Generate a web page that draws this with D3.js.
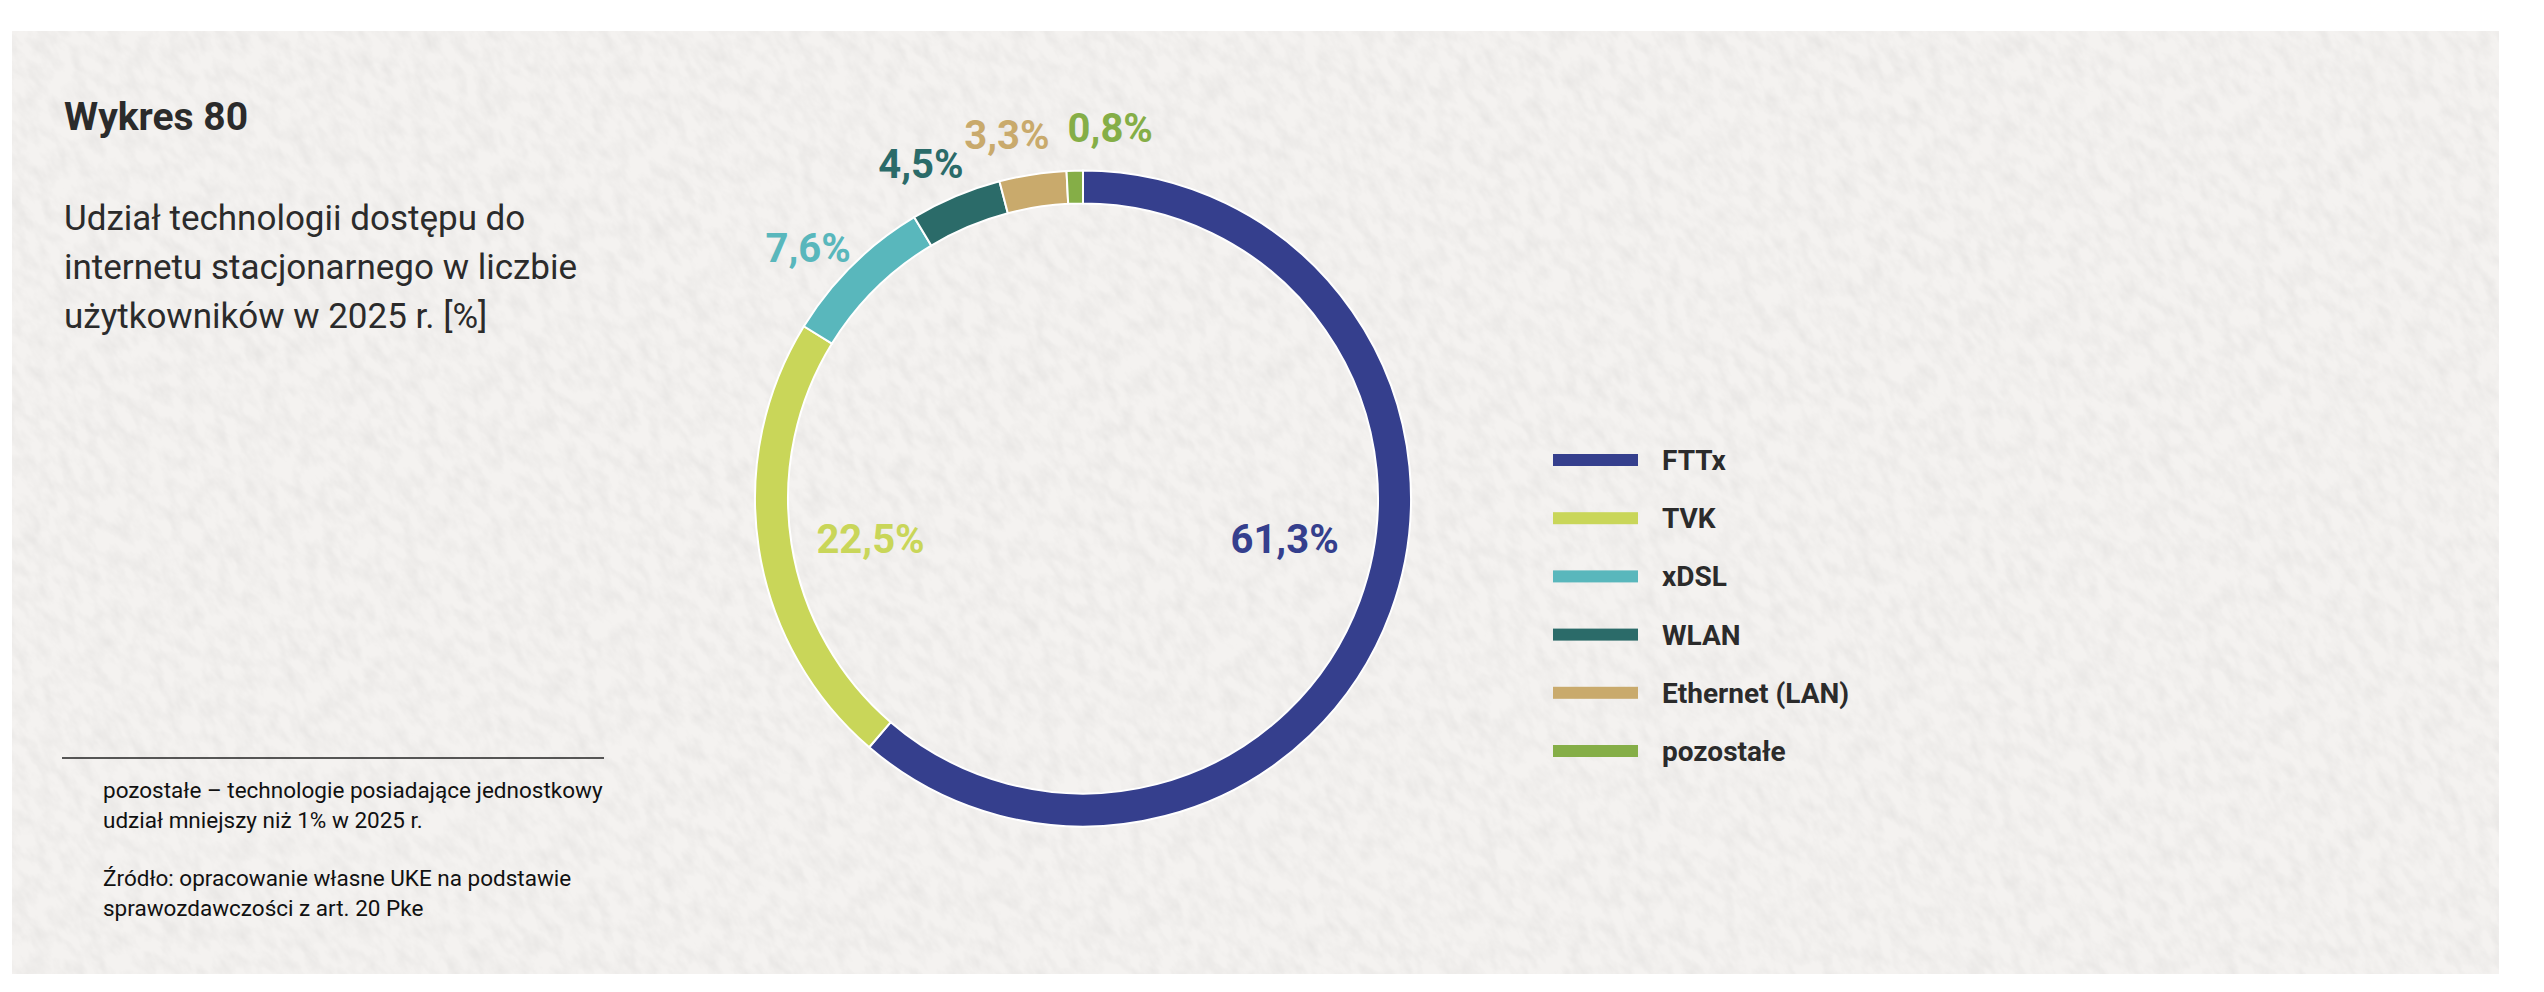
<!DOCTYPE html>
<html lang="pl">
<head>
<meta charset="utf-8">
<title>Wykres 80</title>
<script src="https://cdn.jsdelivr.net/npm/d3@7"></script>
<style>
  html, body { margin: 0; padding: 0; background: #fff; }
  svg { display: block; font-family: Roboto, "Noto Sans", sans-serif; }
</style>
</head>
<body>
<div id="chart"></div>
<script>
const width = 2544,
  height = 992;

// data
const categories = ["FTTx", "TVK", "xDSL", "WLAN", "Ethernet (LAN)", "pozostałe"];
const shares = [61.3, 22.5, 7.6, 4.5, 3.3, 0.8];
const colors = ["#353f8d", "#c9d659", "#59b7bc", "#2b6b69", "#c9aa6c", "#85ae47"];

const titleText = "Wykres 80";
const subtitleLines = [
  "Udział technologii dostępu do",
  "internetu stacjonarnego w liczbie",
  "użytkowników w 2025 r. [%]"
];
const noteLines = [
  "pozostałe – technologie posiadające jednostkowy",
  "udział mniejszy niż 1% w 2025 r."
];
const sourceLines = [
  "Źródło: opracowanie własne UKE na podstawie",
  "sprawozdawczości z art. 20 Pke"
];

// layout
const panel = { x: 12, y: 31, w: 2487, h: 943 };
const center = { x: 1083, y: 498.5 };
const outerR = 328,
  innerR = 295;

const pl = d3.formatLocale({ decimal: ",", thousands: " ", grouping: [3], currency: ["", " zł"] });
const fmt = d => pl.format(".1f")(d) + "%";

const data = categories.map((c, i) => ({ name: c, value: shares[i] }));
const color = d3.scaleOrdinal(categories, colors);

const svg = d3
  .select("#chart")
  .append("svg")
  .attr("width", width)
  .attr("height", height);

// paper background
const defs = svg.append("defs");
defs.append("clipPath").attr("id", "panelClip")
  .append("rect")
  .attr("x", panel.x).attr("y", panel.y)
  .attr("width", panel.w).attr("height", panel.h);

const f = defs.append("filter").attr("id", "paper")
  .attr("x", 0).attr("y", 0).attr("width", "100%").attr("height", "100%");
f.append("feTurbulence")
  .attr("type", "fractalNoise")
  .attr("baseFrequency", "0.09 0.045")
  .attr("numOctaves", 4)
  .attr("seed", 7);
f.append("feColorMatrix")
  .attr("type", "matrix")
  .attr("values", "0 0 0 0 0.62  0 0 0 0 0.61  0 0 0 0 0.6  0.55 0 0 0 -0.2");

svg.append("rect")
  .attr("x", panel.x).attr("y", panel.y)
  .attr("width", panel.w).attr("height", panel.h)
  .attr("fill", "#f4f2f0");

svg.append("g")
  .attr("clip-path", "url(#panelClip)")
  .append("g")
  .attr("transform", `translate(${width / 2},${height / 2}) rotate(-35)`)
  .append("rect")
  .attr("x", -1600).attr("y", -1600)
  .attr("width", 3200).attr("height", 3200)
  .attr("filter", "url(#paper)");

// title block
svg.append("text")
  .attr("x", 64).attr("y", 130)
  .attr("font-size", 39)
  .attr("font-weight", 700)
  .attr("fill", "#2b2b2b")
  .text(titleText);

svg.append("g")
  .selectAll("text")
  .data(subtitleLines)
  .join("text")
  .attr("x", 64)
  .attr("y", (d, i) => 230 + i * 49)
  .attr("font-size", 35)
  .attr("fill", "#2b2b2b")
  .text(d => d);

// footnote
svg.append("line")
  .attr("x1", 62).attr("x2", 604)
  .attr("y1", 758).attr("y2", 758)
  .attr("stroke", "#222")
  .attr("stroke-width", 1.5);

const foot = svg.append("g")
  .attr("font-size", 22.5)
  .attr("fill", "#111");
foot.selectAll(".note")
  .data(noteLines)
  .join("text")
  .attr("class", "note")
  .attr("x", 103)
  .attr("y", (d, i) => 798 + i * 30)
  .text(d => d);
foot.selectAll(".source")
  .data(sourceLines)
  .join("text")
  .attr("class", "source")
  .attr("x", 103)
  .attr("y", (d, i) => 886 + i * 30)
  .text(d => d);

// donut
const pie = d3.pie().value(d => d.value).sort(null);
const arcs = pie(data);
const arc = d3.arc().innerRadius(innerR).outerRadius(outerR);

const g = svg.append("g").attr("transform", `translate(${center.x},${center.y})`);

g.selectAll("path")
  .data(arcs)
  .join("path")
  .attr("d", arc)
  .attr("fill", d => color(d.data.name))
  .attr("stroke", "#fff")
  .attr("stroke-width", 2);

// labels
const innerLabelRow = 40;

const labels = arcs.map(d => {
  const big = d.data.value > 10;
  // outer labels sit a little counter-clockwise of their slice
  const a = (d.startAngle + d.endAngle) / 2 - (big ? 0 : 0.052);
  const r = big ? 215 : outerR + 44;
  return { d, big, x: r * Math.sin(a), y: big ? innerLabelRow : -r * Math.cos(a) };
});

const labelText = g.selectAll(".lbl")
  .data(labels)
  .join("text")
  .attr("class", "lbl")
  .attr("text-anchor", "middle")
  .attr("dy", "0.36em")
  .attr("font-size", 40)
  .attr("font-weight", 700)
  .attr("fill", l => color(l.d.data.name))
  .text(l => fmt(l.d.data.value));

labelText.each(function(l) { l.w = this.getComputedTextLength(); });

// labels on the same row: shift the right one clear of its neighbour
const outer = labels.filter(l => !l.big).sort((a, b) => a.x - b.x);
for (let i = 1; i < outer.length; i++) {
  const a = outer[i - 1], b = outer[i];
  if (Math.abs(a.y - b.y) > 20) continue;
  const need = (a.w + b.w) / 2 + 18;
  if (b.x - a.x < need) b.x = a.x + need;
}

labelText.attr("x", l => l.x).attr("y", l => l.y);

// legend
const legendY = d3.scalePoint().domain(categories).range([460, 751]);
const legend = svg.append("g")
  .selectAll("g")
  .data(categories)
  .join("g")
  .attr("transform", d => `translate(1553,${legendY(d)})`);

legend.append("rect")
  .attr("x", 0).attr("y", -6)
  .attr("width", 85).attr("height", 12)
  .attr("fill", d => color(d));

legend.append("text")
  .attr("x", 109)
  .attr("dy", "0.36em")
  .attr("font-size", 28)
  .attr("font-weight", 700)
  .attr("fill", "#2b2b2b")
  .text(d => d);
</script>
</body>
</html>
